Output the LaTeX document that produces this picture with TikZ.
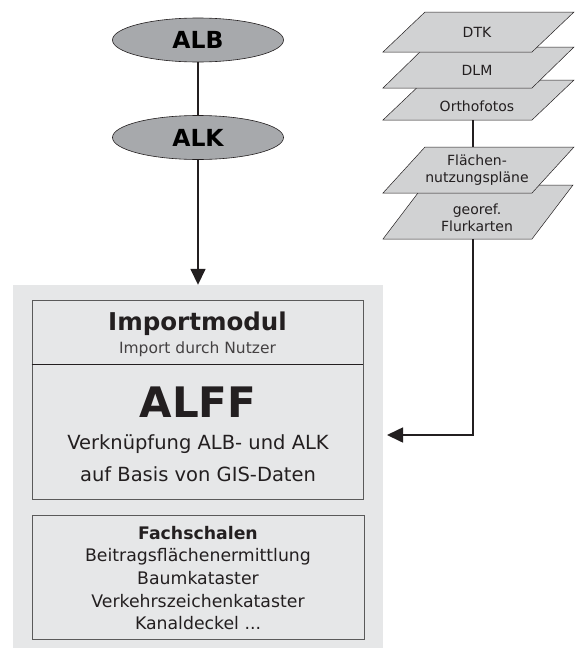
\documentclass[tikz,border=0pt]{standalone}
\usepackage{fontspec}
\setmainfont{DejaVu Sans}
\usepackage{tikz}
\usetikzlibrary{shapes.geometric,arrows.meta}

\definecolor{ovalgray}{RGB}{167,169,172}
\definecolor{layergray}{RGB}{209,210,211}
\definecolor{bggray}{RGB}{230,231,232}
\definecolor{linegray}{RGB}{35,31,32}
\definecolor{framegray}{RGB}{90,90,90}

% Ebene: x links unten, y oben, y unten, Versatz
\newcommand{\ebene}[4]{%
  \filldraw[draw=linegray, fill=layergray, line width=0.5pt]
    (#1,#3) -- (#1+149,#3) -- (#1+149+#4,#2) -- (#1+#4,#2) -- cycle;}

\begin{document}
\begin{tikzpicture}[x=1pt,y=-1pt,
    oval/.style={ellipse, draw=linegray, fill=ovalgray, line width=0.6pt,
      minimum width=171pt, minimum height=44pt, inner sep=0pt,
      font=\bfseries\fontsize{23.5}{23.5}\selectfont},
    layertext/.style={inner sep=0pt, align=center, text=linegray,
      font=\fontsize{14}{17}\selectfont},
    box/.style={rectangle, draw=framegray, line width=0.8pt, inner sep=0pt},
    conn/.style={draw=linegray, line width=1.6pt}]

  \useasboundingbox (0,0) rectangle (579,648);

  % Oval
  \node (alb) at (198,40) [oval] {ALB};
  \node (alk) at (198,137.5) [oval] {ALK};

  % Ebenen
  \ebene{383}{80}{120}{42}
  \ebene{383}{47}{88}{42}
  \ebene{383}{12}{52}{42}
  \ebene{383}{185}{239}{41}
  \ebene{383}{147}{193}{42}

  \node (dtk) at (477,32) [layertext] {DTK};
  \node (dlm) at (477,70) [layertext] {DLM};
  \node (ortho) at (477,106) [layertext] {Orthofotos};
  \node (flaechen) at (477,170) [layertext] {Flächen-\\nutzungspläne};
  \node (georef) at (477,218) [layertext] {georef.\\Flurkarten};

  % Hauptblock
  \node (bg) at (198,466.5) [fill=bggray, minimum width=370pt, minimum height=363pt] {};
  \node (imp) at (197.5,332) [box, minimum width=331pt, minimum height=64pt] {};
  \node (alff) at (197.5,431.5) [box, minimum width=331pt, minimum height=135pt] {};
  \node (fach) at (198,577) [box, minimum width=332pt, minimum height=124pt] {};
  \draw [linegray, line width=1.2pt] (imp.south west) -- (imp.south east);

  \node (imptitle) at (197.5,330) [anchor=base, inner sep=0pt, text=linegray,
    font=\bfseries\fontsize{24.5}{24.5}\selectfont] {Importmodul};
  \node (impsub) at (197.5,353) [anchor=base, inner sep=0pt, text=linegray!85,
    font=\fontsize{15.5}{15.5}\selectfont] {Import durch Nutzer};
  \node (alfftitle) at (198,417) [anchor=base, inner sep=0pt, text=linegray,
    font=\bfseries\fontsize{42}{42}\selectfont] {ALFF};
  \node (alfftext) at (198,458) [inner sep=0pt, align=center, text=linegray,
    font=\fontsize{19.5}{32}\selectfont] {Verknüpfung ALB- und ALK\\auf Basis von GIS-Daten};
  \node (fachtext) at (198,578) [inner sep=0pt, align=center, text=linegray,
    font=\fontsize{17.3}{22.7}\selectfont]
    {\textbf{Fachschalen}\\Beitragsflächenermittlung\\Baumkataster\\Verkehrszeichenkataster\\Kanaldeckel ...};

  % Verbindungen
  \coordinate (orthobot) at (473,120);
  \coordinate (flaechentop) at (473,147);
  \coordinate (georefbot) at (473,239);
  \coordinate (bend) at (473,435);
  \coordinate (tip) at (387,435);
  \draw [conn] (alb) -- (alk);
  \draw [conn, -{Triangle[length=16pt, width=15pt]}] (alk) -- (bg);
  \draw [conn] (orthobot) -- (flaechentop);
  \draw [conn, -{Triangle[length=16pt, width=15pt]}] (georefbot) -- (bend) -- (tip);
\end{tikzpicture}
\end{document}
